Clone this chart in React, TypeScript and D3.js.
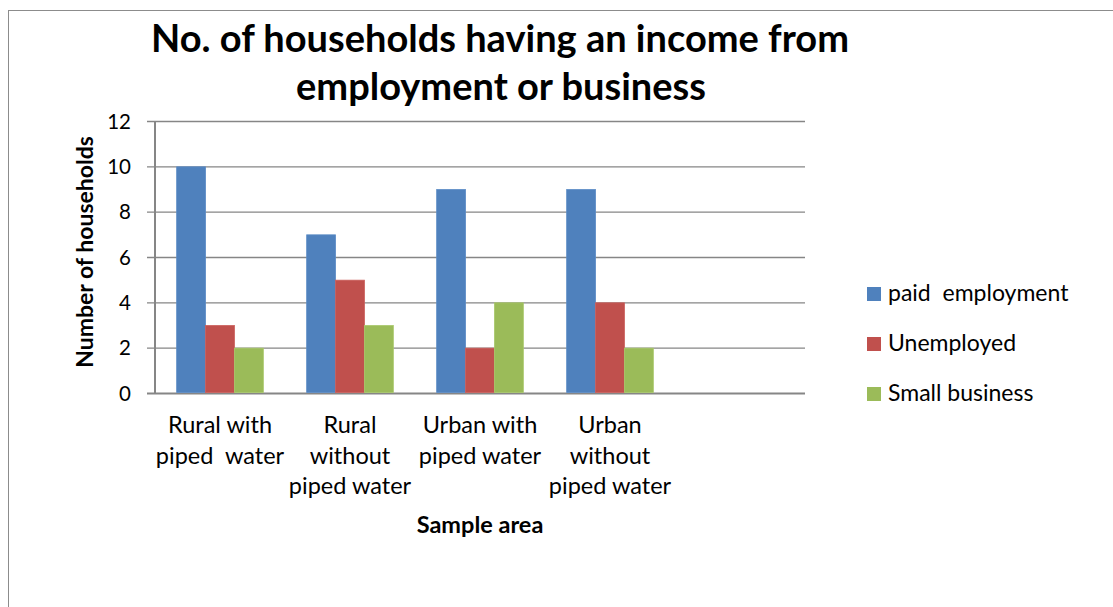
import React from "react";
import * as d3 from "d3";

const categories: string[][] = [
  ["Rural with", "piped  water"],
  ["Rural", "without", "piped water"],
  ["Urban with", "piped water"],
  ["Urban", "without", "piped water"],
];
const seriesNames = ["paid  employment", "Unemployed", "Small business"];
const paidEmployment = [10, 7, 9, 9];
const unemployed = [3, 5, 2, 4];
const smallBusiness = [2, 3, 4, 2];
const yTicks = [0, 2, 4, 6, 8, 10, 12];
const colors = ["#4F81BD", "#C0504D", "#9BBB59"];
const strokeColors = ["#5B8CC6", "#CB5F5C", "#A9C86A"];

const W = 1113;
const H = 607;
const FONT = "Lato, 'Open Sans', sans-serif";

export default function App() {
  const series = [paidEmployment, unemployed, smallBusiness];
  const left = 155, right = 805, top = 121.5, bottom = 393.5;
  // five slots: four categories + one empty slot on the right
  const slotKeys = [...categories.map((_, i) => String(i)), "empty"];
  const x = d3.scaleBand<string>().domain(slotKeys).range([left, right]).paddingInner(0).paddingOuter(0);
  const bw = x.bandwidth() / 4.5;
  const y = d3.scaleLinear().domain([0, 12]).range([bottom, top]);
  const plotCx = (left + right) / 2;

  return (
    <svg width={W} height={H} style={{ display: "block", position: "absolute", left: 0, top: 0 }} fontFamily={FONT}>
      <rect x={0} y={0} width={W} height={H} fill="#fff" />
      <rect x={8.5} y={10.5} width={W + 10} height={H + 10} fill="none" stroke="#8c8c8c" strokeWidth={1} />
      {/* title */}
      <text x={500} y={52} textAnchor="middle" fontSize={38} fontWeight="bold" fill="#000">
        No. of households having an income from
      </text>
      <text x={501} y={100} textAnchor="middle" fontSize={38} fontWeight="bold" fill="#000">
        employment or business
      </text>
      {/* gridlines */}
      {yTicks.map((t) => (
        <line key={"g" + t} x1={147} x2={right} y1={y(t)} y2={y(t)} stroke="#868686" strokeWidth={t === 0 ? 2 : 1.3} />
      ))}
      {yTicks.map((t) => (
        <text key={"t" + t} x={131} y={y(t)} dy="0.35em" textAnchor="end" fontSize={20.5} fill="#000">
          {t}
        </text>
      ))}
      <line x1={left} x2={left} y1={top} y2={bottom} stroke="#868686" strokeWidth={2} />
      {/* bars */}
      {series.map((vals, si) =>
        vals.map((v, ci) => {
          const x0 = (x(String(ci)) as number) + 0.75 * bw + si * bw;
          return (
            <rect
              key={si + "-" + ci}
              x={x0}
              y={y(v)}
              width={bw}
              height={y(0) - y(v) - 1}
              fill={colors[si]}
              stroke={strokeColors[si]}
              strokeWidth={0.8}
            />
          );
        })
      )}
      {/* category labels */}
      {categories.map((lines, ci) => {
        const cx = (x(String(ci)) as number) + x.bandwidth() / 2;
        return (
          <text key={"c" + ci} textAnchor="middle" fontSize={23.5} fill="#000">
            {lines.map((l, li) => (
              <tspan key={li} x={cx} y={433 + li * 30.5} style={{ whiteSpace: "pre" }}>
                {l}
              </tspan>
            ))}
          </text>
        );
      })}
      <text x={plotCx} y={533} textAnchor="middle" fontSize={23.5} fontWeight="bold" fill="#000">
        Sample area
      </text>
      <text
        transform={`translate(93, 252) rotate(-90)`}
        textAnchor="middle"
        fontSize={23}
        fontWeight="bold"
        fill="#000"
      >
        Number of households
      </text>
      {/* legend */}
      {seriesNames.map((n, i) => (
        <g key={"l" + i} transform={`translate(867, ${293 + i * 50})`}>
          <rect x={0} y={-6} width={14} height={14} fill={colors[i]} />
          <text x={21} y={0} dy="0.35em" fontSize={23} fill="#000" style={{ whiteSpace: "pre" }}>
            {n}
          </text>
        </g>
      ))}
    </svg>
  );
}
